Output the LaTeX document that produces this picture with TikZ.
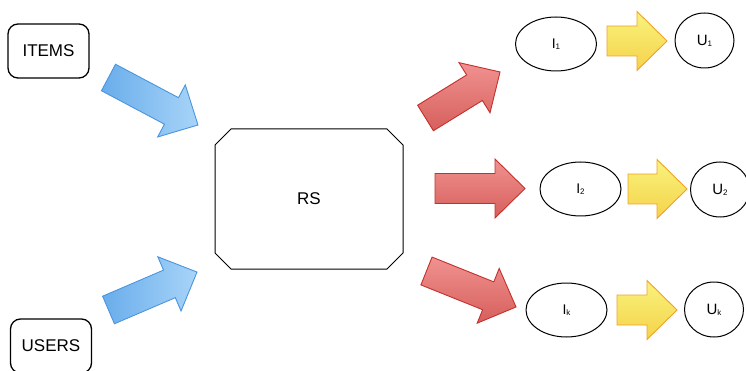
\documentclass[tikz,border=0pt]{standalone}
\usepackage{fontspec}
\setmainfont{Liberation Sans}
\usetikzlibrary{shapes.misc,shapes.geometric}

\definecolor{blueedge}{HTML}{4A95DE}
\definecolor{bluedark}{HTML}{69ADEB}
\definecolor{bluelight}{HTML}{A8D4F8}
\definecolor{rededge}{HTML}{C4302B}
\definecolor{redlight}{HTML}{F09290}
\definecolor{reddark}{HTML}{D65F5C}
\definecolor{yellowedge}{HTML}{F0A12A}
\definecolor{yellowlight}{HTML}{F8F37C}
\definecolor{yellowdark}{HTML}{F5D24A}

% label with a small lowered index, e.g. I with 1
\newcommand\idxlabel[2]{#1\raisebox{-1.2pt}{\fontsize{8}{9}\selectfont #2}}

% block arrow: style, tail coordinate, angle, total length
\newcommand\blockarrow[4]{%
  \path[#1, shift={(#2)}, rotate=#3]
    (0,-15) -- ({#4-30},-15) -- ({#4-30},-29.5) -- (#4,0)
    -- ({#4-30},29.5) -- ({#4-30},15) -- (0,15) -- cycle;}

\begin{document}
\begin{tikzpicture}[x=1pt,y=-1pt,
  inbox/.style={draw, line width=1.3pt, rounded corners=10pt,
    minimum width=81pt, minimum height=54pt, inner sep=0pt,
    font=\fontsize{17}{20}\selectfont},
  core/.style={draw, line width=1pt, chamfered rectangle,
    chamfered rectangle xsep=10pt, chamfered rectangle ysep=10pt,
    minimum width=188pt, minimum height=140pt, inner sep=0pt,
    font=\fontsize{17}{20}\selectfont},
  item/.style={draw, ellipse, line width=1pt, minimum width=81pt,
    minimum height=54pt, inner sep=0pt, font=\fontsize{14}{16}\selectfont},
  user/.style={draw, ellipse, line width=1pt, minimum width=59pt,
    minimum height=55pt, inner sep=0pt, font=\fontsize{15}{17}\selectfont},
  bluearrow/.style={draw=blueedge, line width=0.9pt,
    left color=bluedark, right color=bluelight},
  redarrow/.style={draw=rededge, line width=0.9pt,
    top color=redlight, bottom color=reddark},
  yellowarrow/.style={draw=yellowedge, line width=0.9pt,
    top color=yellowlight, bottom color=yellowdark},
]
\useasboundingbox (0,0) rectangle (746,371);
\clip (0,0) rectangle (746,371);

% inputs and the recommender
\node[inbox] (items) at (48.5,51) {ITEMS};
\node[inbox] (users) at (51,346) {USERS};
\node[core] (rs) at (309,199) {RS};

% recommended items and their users
\node[item] (i1) at (556,44) {\idxlabel{I}{1}};
\node[user] (u1) at (704.5,40.5) {\idxlabel{U}{1}};
\node[item] (i2) at (580.5,189) {\idxlabel{I}{2}};
\node[user] (u2) at (720,189.5) {\idxlabel{U}{2}};
\node[item] (ik) at (566.5,310) {\idxlabel{I}{k}};
\node[user] (uk) at (714,309.5) {\idxlabel{U}{k}};

% tails of the block arrows
\coordinate (b1) at (108.5,77.5);
\coordinate (b2) at (108.5,310);
\coordinate (r1) at (425.5,118);
\coordinate (r2) at (435,188.5);
\coordinate (r3) at (426.5,271);
\coordinate (y1) at (607,41);
\coordinate (y2) at (628,189);
\coordinate (y3) at (617,310);

\blockarrow{bluearrow}{b1}{-27.96}{101.3}
\blockarrow{bluearrow}{b2}{23.2}{96.3}
\blockarrow{redarrow}{r1}{31.7}{87.6}
\blockarrow{redarrow}{r2}{0}{90}
\blockarrow{redarrow}{r3}{-21.9}{96.5}
\blockarrow{yellowarrow}{y1}{0}{60}
\blockarrow{yellowarrow}{y2}{0}{59}
\blockarrow{yellowarrow}{y3}{0}{60}
\end{tikzpicture}
\end{document}
